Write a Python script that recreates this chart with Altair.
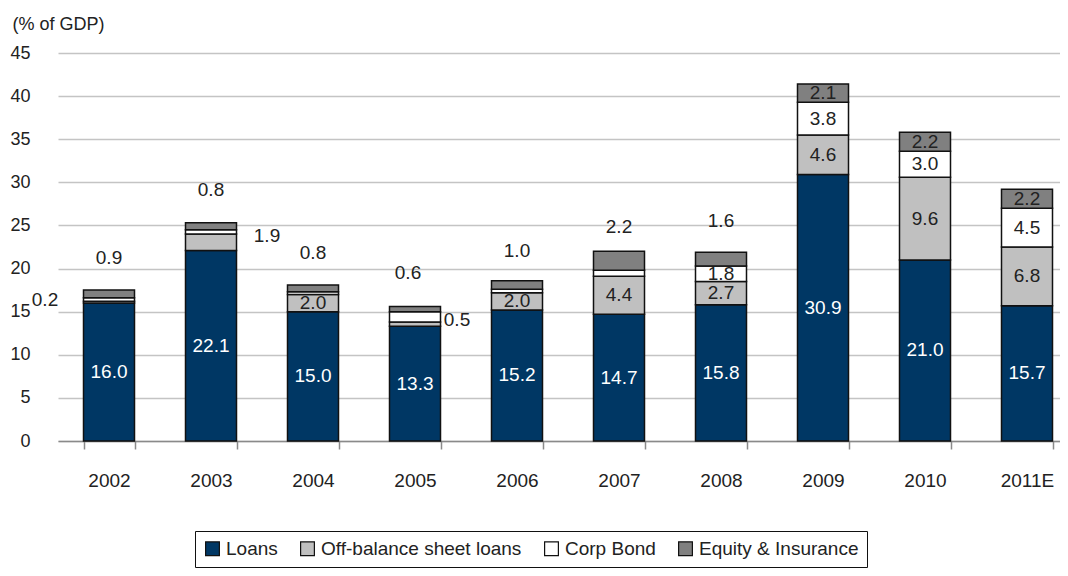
import altair as alt
import pandas as pd

years = ["2002", "2003", "2004", "2005", "2006", "2007", "2008", "2009", "2010", "2011E"]
series_names = ["Loans", "Off-balance sheet loans", "Corp Bond", "Equity & Insurance"]
loans = [16.0, 22.1, 15.0, 13.3, 15.2, 14.7, 15.8, 30.9, 21.0, 15.7]
offbal = [0.2, 1.9, 2.0, 0.5, 2.0, 4.4, 2.7, 4.6, 9.6, 6.8]
corp = [0.4, 0.5, 0.3, 1.2, 0.4, 0.7, 1.8, 3.8, 3.0, 4.5]
equity = [0.9, 0.8, 0.8, 0.6, 1.0, 2.2, 1.6, 2.1, 2.2, 2.2]
colors = ["#003764", "#c0c0c0", "#ffffff", "#808080"]

# labels drawn inside segments: (year, series)
inside_labels = (
    [(y, "Loans") for y in years]
    + [(y, "Off-balance sheet loans") for y in ["2004", "2006", "2007", "2008", "2009", "2010", "2011E"]]
    + [(y, "Corp Bond") for y in ["2008", "2009", "2010", "2011E"]]
    + [(y, "Equity & Insurance") for y in ["2009", "2010", "2011E"]]
)
# labels drawn outside: (year, series, anchor, dx px, dy px)
outside_labels = [
    ("2002", "Off-balance sheet loans", "mid", -64, -2),
    ("2002", "Equity & Insurance", "top", 0, -32),
    ("2003", "Off-balance sheet loans", "mid", 56, -6),
    ("2003", "Equity & Insurance", "top", 0, -33),
    ("2004", "Equity & Insurance", "top", 0, -32),
    ("2005", "Off-balance sheet loans", "mid", 42, -4),
    ("2005", "Equity & Insurance", "top", -7, -33),
    ("2006", "Equity & Insurance", "top", 0, -30),
    ("2007", "Equity & Insurance", "top", 0, -24),
    ("2008", "Equity & Insurance", "top", 0, -31),
]

values = dict(zip(series_names, [loans, offbal, corp, equity]))
rows = []
for i, y in enumerate(years):
    base = 0.0
    for k, s in enumerate(series_names):
        v = values[s][i]
        rows.append({"year": y, "series": s, "order": k, "value": v,
                     "start": base, "end": base + v, "mid": base + v / 2,
                     "label": f"{v:.1f}"})
        base += v
df = pd.DataFrame(rows)

FONT = "Liberation Sans, Arial, sans-serif"

xenc = alt.X("year:N", sort=years,
             scale=alt.Scale(domain=years, range=[0, 1020], paddingInner=0.5, paddingOuter=0.25),
             axis=alt.Axis(title=None, labelAngle=0, labelFontSize=19, labelColor="#222",
                           labelFont=FONT, labelPadding=22, domainColor="#8a8a8a", domainWidth=1.5,
                           tickColor="#8a8a8a", tickWidth=1.5, tickSize=8, tickBand="extent",
                           grid=False))

bars = alt.Chart(df).mark_bar(stroke="#111", strokeWidth=1.5).encode(
    x=xenc,
    y=alt.Y("start:Q", scale=alt.Scale(domain=[0, 45], nice=False),
            axis=alt.Axis(title="(% of GDP)", titleAngle=0, titleAlign="left", titleBaseline="middle",
                          titleX=-46, titleY=-29, titleFont=FONT, titleFontSize=18, titleFontWeight="normal",
                          titleColor="#222", values=list(range(0, 50, 5)), labelFont=FONT,
                          labelFontSize=18, labelColor="#222", labelPadding=28, domain=False, ticks=False,
                          gridColor="#c4c4c4", gridWidth=1.5)),
    y2="end:Q",
    fill=alt.Fill("series:N", sort=series_names,
                  scale=alt.Scale(domain=series_names, range=colors),
                  legend=alt.Legend(title=None, orient="none", legendX=137, legendY=478,
                                    direction="horizontal", symbolType="square", symbolSize=190,
                                    symbolStrokeColor="#111", symbolStrokeWidth=1.2,
                                    labelFont=FONT, labelFontSize=19, labelColor="#222", labelLimit=0,
                                    columnPadding=20, padding=8, strokeColor="#111",
                                    fillColor="white", labelOffset=4)),
    order=alt.Order("order:Q"),
)

in_keys = set(inside_labels)
df_in = df[[(r.year, r.series) in in_keys for r in df.itertuples()]].copy()
df_in["tcolor"] = ["white" if s == "Loans" else "#222" for s in df_in["series"]]

inside = alt.Chart(df_in).mark_text(font=FONT, fontSize=19, baseline="middle").encode(
    x=alt.X("year:N", sort=years),
    y=alt.Y("mid:Q"),
    text="label:N",
    color=alt.Color("tcolor:N", scale=None),
)

layers = [bars, inside]
for (y, s, anchor, dx, dy) in outside_labels:
    sub = df[(df.year == y) & (df.series == s)].copy()
    sub["anchor"] = sub["end"] if anchor == "top" else sub["mid"]
    layers.append(
        alt.Chart(sub).mark_text(font=FONT, fontSize=19, baseline="middle", dx=dx, dy=dy, color="#222").encode(
            x=alt.X("year:N", sort=years),
            y=alt.Y("anchor:Q"),
            text="label:N",
        )
    )

chart = alt.layer(*layers).properties(
    width=1002, height=388,
    autosize=alt.AutoSizeParams(type="none"),
    padding={"left": 50, "top": 45, "right": 0, "bottom": 127},
).configure_view(stroke=None)

chart.save("out.html", embed_options={"renderer": "svg", "actions": False})
